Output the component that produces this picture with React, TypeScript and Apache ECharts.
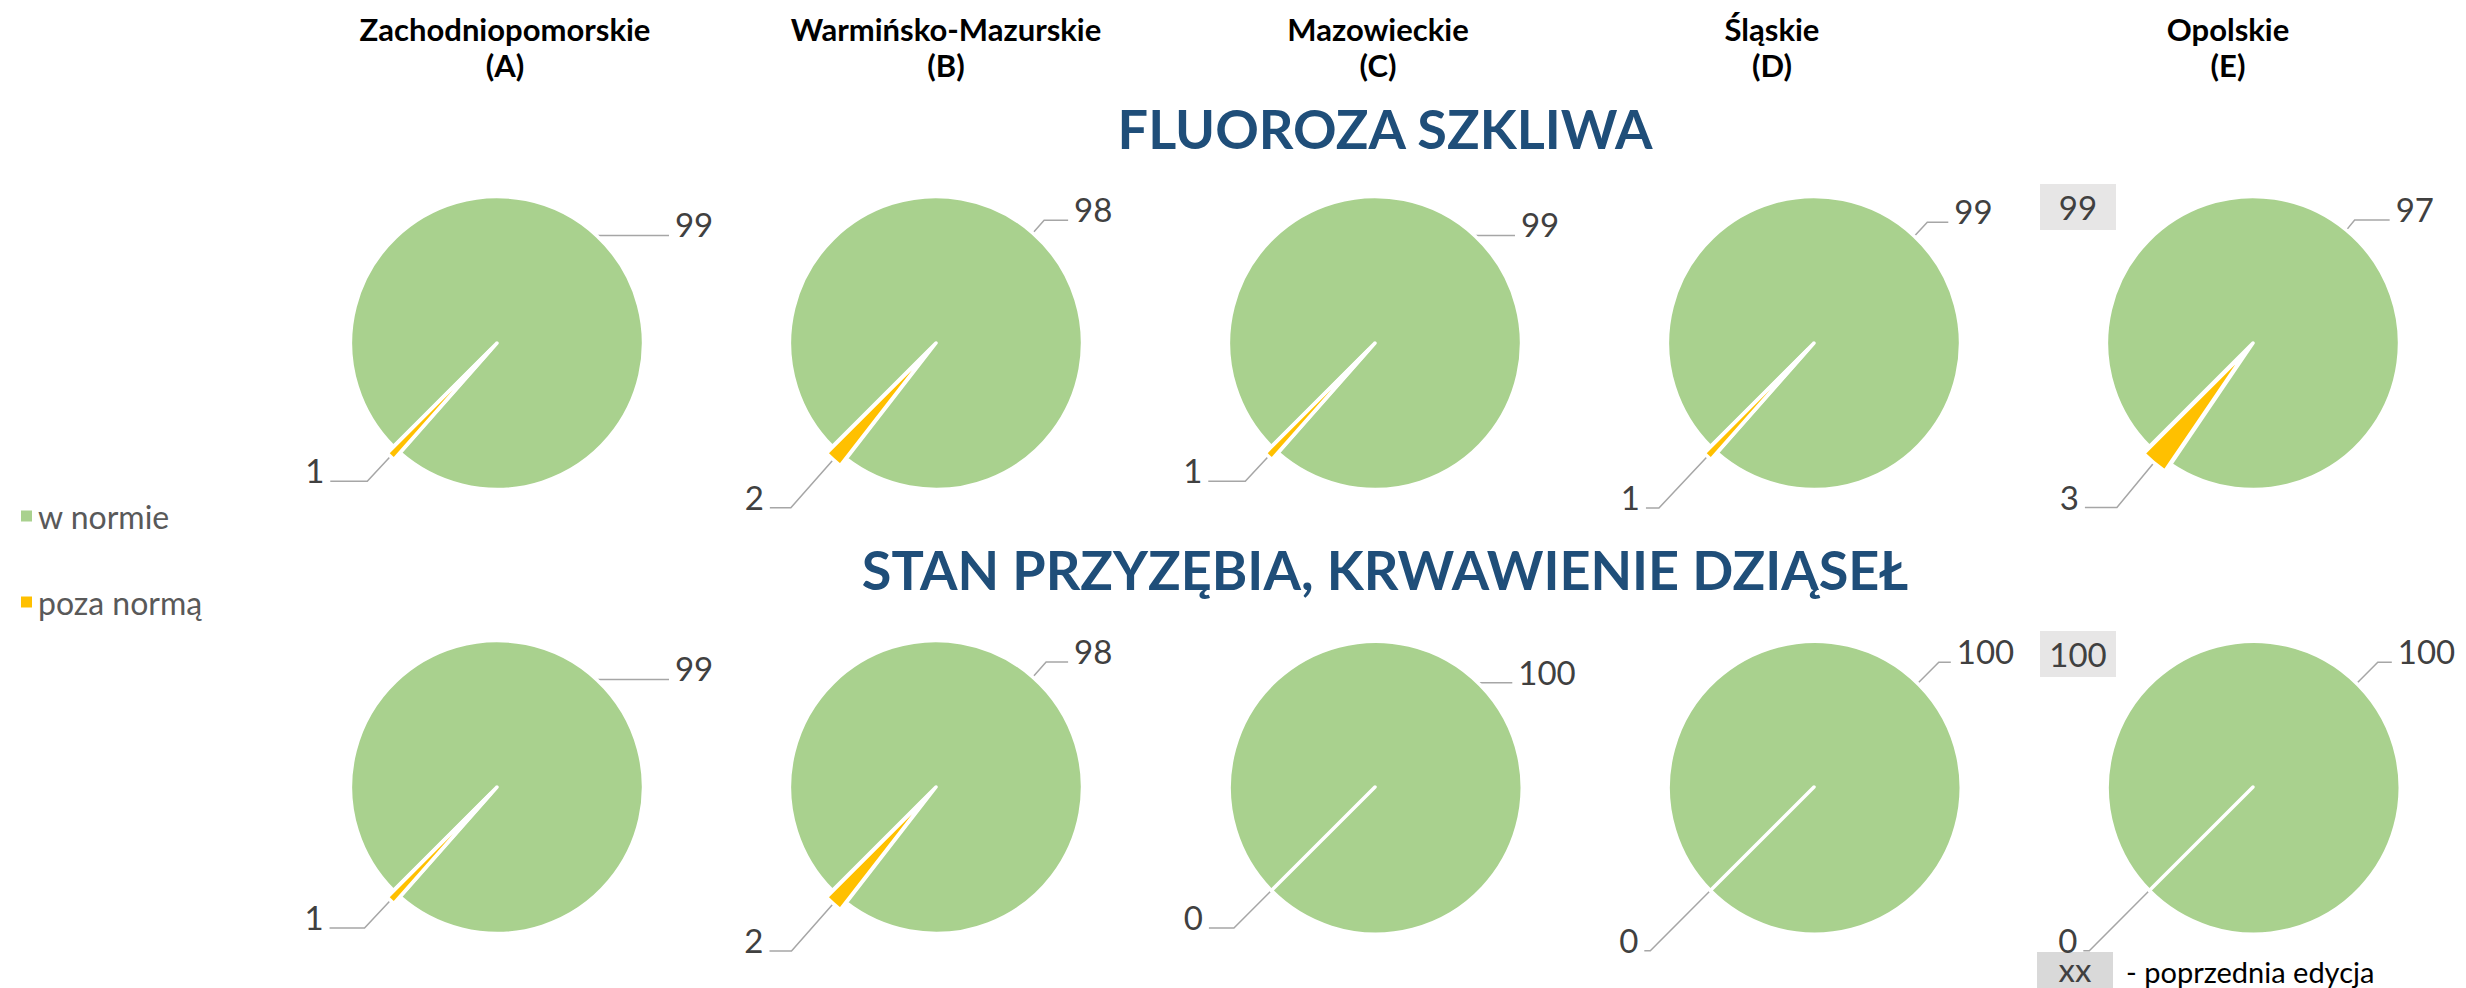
import React, { useEffect, useRef } from 'react';
import * as echarts from 'echarts';

// ---- data ----
const regions = ['Zachodniopomorskie', 'Warmińsko-Mazurskie', 'Mazowieckie', 'Śląskie', 'Opolskie'];
const regionLetters = ['A', 'B', 'C', 'D', 'E'];
const categories = ['w normie', 'poza normą'];
const sectionTitles = ['FLUOROZA SZKLIWA', 'STAN PRZYZĘBIA, KRWAWIENIE DZIĄSEŁ'];
const fluorosisNorm = [99, 98, 99, 99, 97];
const fluorosisOut = [1, 2, 1, 1, 3];
const gumsNorm = [99, 98, 100, 100, 100];
const gumsOut = [1, 2, 0, 0, 0];
const previousEditionOpolskie = [99, 100];
const previousLabel = 'xx';
const previousNote = '- poprzednia edycja';

// ---- layout / style (not data) ----
const W = 2466;
const H = 988;
const pieX = [497, 936, 1375, 1814, 2253];
const rowY = [343, 787];
const headerX = [505, 946, 1378, 1772, 2228];
const titleY = [128, 569];
const prevBoxY = [184, 631];
const R = 146.5;
const COLORS = ['#A9D18E', '#FFC000'];
const FONT = 'Lato, "Open Sans", sans-serif';
// leader line [length, length2] per row / pie
const normLine = [
  [[1, 71], [17, 24], [1, 39], [19, 21], [13, 35]],
  [[1, 71], [20, 22], [1, 33], [30, 12], [30, 14]],
];
const outLine = [
  [[34, 37], [64, 21], [34, 37], [71, 13], [58, 32]],
  [[38, 35], [63, 22], [53, 25], [85, 6], [85, 6]],
];

export default function App() {
  const ref = useRef<HTMLDivElement>(null);

  useEffect(() => {
    if (!ref.current) return;
    const chart = echarts.init(ref.current, undefined, { renderer: 'svg' });

    const rows = [
      [fluorosisNorm, fluorosisOut],
      [gumsNorm, gumsOut],
    ];

    const series: any[] = [];
    rows.forEach(([norm, out], r) => {
      regions.forEach((reg, c) => {
        series.push({
          type: 'pie',
          name: `${sectionTitles[r]} ${reg}`,
          center: [pieX[c], rowY[r]],
          radius: R,
          startAngle: 225,
          clockwise: true,
          selectedMode: 'multiple',
          selectedOffset: 9,
          avoidLabelOverlap: false,
          minShowLabelAngle: 0,
          animation: false,
          emphasis: { disabled: true },
          itemStyle: { borderColor: '#ffffff', borderWidth: 3.5 },
          label: {
            show: true,
            position: 'outside',
            formatter: '{v|{c}}',
            distanceToLabelLine: 6,
            rich: {
              v: {
                color: '#404040',
                fontSize: 33,
                fontFamily: FONT,
                padding: [0, 0, 22, 0],
              },
            },
          },
          labelLine: {
            show: true,
            smooth: false,
            lineStyle: { color: '#A6A6A6', width: 1.5 },
          },
          data: [
            {
              name: categories[0],
              value: norm[c],
              itemStyle: { color: COLORS[0] },
              labelLine: { length: normLine[r][c][0], length2: normLine[r][c][1] },
            },
            {
              name: categories[1],
              value: out[c],
              selected: out[c] > 0,
              itemStyle: { color: COLORS[1] },
              labelLine: { length: outLine[r][c][0], length2: outLine[r][c][1] },
            },
          ],
        });
      });
    });

    const graphic: any[] = [];
    regions.forEach((reg, c) => {
      graphic.push({
        type: 'text',
        x: headerX[c],
        y: 47,
        style: {
          text: `${reg}\n(${regionLetters[c]})`,
          align: 'center',
          verticalAlign: 'middle',
          fontSize: 31,
          fontWeight: 'bold',
          fontFamily: FONT,
          lineHeight: 36,
          fill: '#000000',
        },
      });
    });
    sectionTitles.forEach((t, r) => {
      graphic.push({
        type: 'text',
        x: 1385,
        y: titleY[r],
        style: {
          text: t,
          align: 'center',
          verticalAlign: 'middle',
          fontSize: 54,
          fontWeight: 'bold',
          fontFamily: FONT,
          fill: '#1F4E79',
        },
      });
    });
    previousEditionOpolskie.forEach((v, r) => {
      graphic.push({
        type: 'rect',
        shape: { x: 2040, y: prevBoxY[r], width: 76, height: 46 },
        style: { fill: '#E7E6E6' },
      });
      graphic.push({
        type: 'text',
        x: 2078,
        y: prevBoxY[r] + 23,
        style: {
          text: String(v),
          align: 'center',
          verticalAlign: 'middle',
          fontSize: 33,
          fontFamily: FONT,
          fill: '#404040',
        },
      });
    });
    graphic.push({
      type: 'rect',
      shape: { x: 2037, y: 952, width: 76, height: 40 },
      style: { fill: '#D9D9D9' },
    });
    graphic.push({
      type: 'text',
      x: 2075,
      y: 969,
      style: {
        text: previousLabel,
        align: 'center',
        verticalAlign: 'middle',
        fontSize: 33,
        fontFamily: FONT,
        fill: '#404040',
      },
    });
    graphic.push({
      type: 'text',
      x: 2126,
      y: 971,
      style: {
        text: previousNote,
        align: 'left',
        verticalAlign: 'middle',
        fontSize: 29,
        fontFamily: FONT,
        fill: '#000000',
      },
    });

    chart.setOption({
      animation: false,
      backgroundColor: '#ffffff',
      color: COLORS,
      legend: {
        orient: 'vertical',
        left: 14,
        top: 495,
        icon: 'rect',
        itemWidth: 13,
        itemHeight: 13,
        itemGap: 54,
        selectedMode: false,
        data: categories,
        textStyle: {
          color: '#595959',
          fontSize: 32,
          fontFamily: FONT,
          lineHeight: 32,
        },
      },
      series,
      graphic,
    });

    return () => chart.dispose();
  }, []);

  return (
    <div
      ref={ref}
      style={{ position: 'absolute', left: 0, top: 0, width: W, height: H }}
    />
  );
}
